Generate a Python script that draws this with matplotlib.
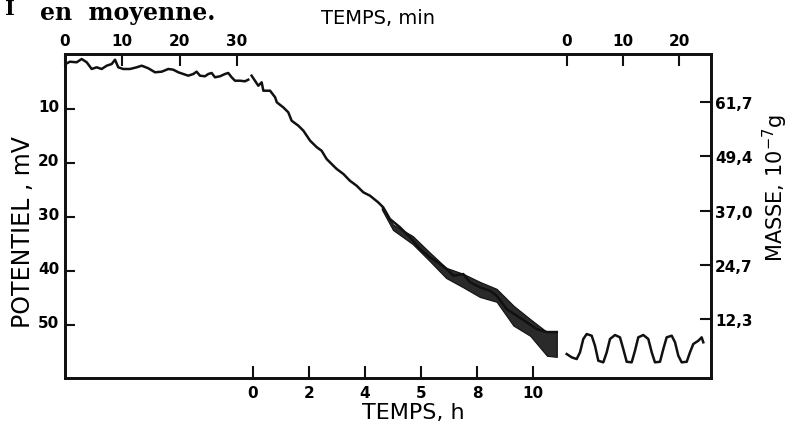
import numpy as np
import matplotlib.pyplot as plt
from matplotlib.transforms import ScaledTranslation

plt.rcParams['font.family'] = ['DejaVu Sans']

# palier initial (echelle du haut a gauche, min)
stab_min = [0.0, 0.87, 2.04, 2.91, 3.79, 4.66, 5.53, 6.40, 7.28, 8.15, 8.73, 9.30, 10.17,
            11.34, 12.51, 13.39, 14.54, 15.71, 16.88, 18.03, 18.90, 19.77, 20.65, 21.52,
            22.39, 22.98, 23.56, 24.43, 25.01, 25.60, 26.18, 27.05, 27.92, 28.50, 29.09,
            29.67, 30.54, 31.41, 31.99]
stab_mv = [1.70, 1.24, 1.35, 0.74, 1.35, 2.59, 2.28, 2.59, 1.98, 1.67, 0.87, 2.28, 2.59,
           2.59, 2.28, 1.98, 2.46, 3.20, 3.09, 2.59, 2.72, 3.20, 3.52, 3.83,
           3.52, 3.09, 3.83, 3.94, 3.52, 3.33, 4.13, 3.94, 3.52, 3.33, 4.13,
           4.76, 4.76, 4.87, 4.57]

# depot (echelle du bas, h)
dep_h = [-0.05, 0.07, 0.19, 0.31, 0.37, 0.61, 0.79, 0.85, 1.08, 1.26, 1.38, 1.62, 1.80,
         2.04, 2.28, 2.45, 2.63, 2.87, 2.99, 3.23, 3.46, 3.70, 3.94, 4.18, 4.47, 4.65,
         4.89, 5.25, 5.61, 5.96, 6.32, 6.68, 6.92, 7.15, 7.51, 7.75, 8.11, 8.46, 8.70,
         9.06, 9.42, 9.78, 10.13, 10.49, 10.85]
dep_mv = [3.83, 4.76, 5.69, 5.06, 6.61, 6.61, 7.83, 8.76, 9.69, 10.61, 12.17, 13.09, 14.02,
          15.87, 17.09, 17.72, 19.26, 20.50, 21.11, 22.04, 23.28, 24.20, 25.43, 26.06, 27.28,
          28.20, 30.37, 31.91, 33.76, 35.93, 37.46, 38.70, 39.63, 40.87, 40.56, 42.09, 43.02,
          43.65, 44.57, 47.04, 48.28, 49.50, 50.74, 51.30, 51.30]

# bande de bruit
band_h = [4.6, 5.0, 5.7, 6.3, 6.9, 7.5, 8.1, 8.7, 9.3, 9.9, 10.5, 10.85]
band_top = [28.0, 31.4, 33.5, 36.5, 39.4, 40.5, 42.0, 43.3, 46.4, 48.9, 51.3, 51.3]
band_bot = [28.6, 32.4, 35.0, 38.1, 41.3, 43.0, 44.8, 45.7, 50.1, 52.0, 55.7, 55.9]

# apres coupure (echelle du haut a droite, min)
end_min = [-0.05, 0.84, 1.73, 2.32, 2.91, 3.52, 4.41, 5.0, 5.59, 6.48, 7.09, 7.68, 8.57,
           9.46, 10.05, 10.66, 11.55, 12.14, 12.73, 13.63, 14.52, 15.13, 15.71, 16.61,
           17.20, 17.80, 18.70, 19.29, 19.88, 20.48, 21.38, 21.96, 22.55, 23.45, 24.05, 24.34]
end_mv = [55.37, 55.98, 56.30, 55.06, 52.59, 51.67, 51.98, 53.83, 56.61, 56.91, 55.06, 52.59,
          51.85, 52.28, 54.44, 56.80, 56.91, 54.76, 52.28, 51.85, 52.59, 55.06, 56.91, 56.80,
          54.44, 52.28, 51.98, 53.20, 55.69, 56.91, 56.80, 55.06, 53.52, 52.91, 52.28, 53.20]

h_ticks = [0, 2, 4, 6, 8, 10]
h_labels = ['0', '2', '4', '5', '8', '10']
min_ticks_start = [0, 10, 20, 30]
min_ticks_end = [0, 10, 20]
mv_ticks = [10, 20, 30, 40, 50]
mass_ticks = [61.7, 49.4, 37.0, 24.7, 12.3]
mass_labels = ['61,7', '49,4', '37,0', '24,7', '12,3']


def start_min_to_h(m):
    return -6.714 + np.asarray(m) * 0.2046


def end_min_to_h(m):
    return 11.214 + np.asarray(m) * 0.2


def mv_to_mass(v):
    return 72.39 - 1.229 * v


ink = '#111111'
fig = plt.figure(figsize=(7.9, 4.27), dpi=100)
ax = fig.add_axes([65 / 790, 1 - 379 / 427, 646 / 790, 324 / 427])
xlim = (-6.714, 16.357)
ylim = (59.81, -0.185)

ax.plot(start_min_to_h(stab_min), stab_mv, color=ink, lw=1.8)
ax.plot(dep_h, dep_mv, color=ink, lw=1.8)
ax.fill_between(band_h, band_top, band_bot, color='#2a2a2a', lw=0.8, edgecolor=ink)
ax.plot(end_min_to_h(end_min), end_mv, color=ink, lw=1.8)
ax.set_xlim(xlim)
ax.set_ylim(ylim)

ax.set_xticks(h_ticks)
ax.set_xticklabels(h_labels, fontsize=11, fontweight='bold')
ax.set_yticks(mv_ticks)
ax.set_yticklabels([str(v) for v in mv_ticks], fontsize=11, fontweight='bold')
ax.tick_params(axis='x', direction='in', length=8.5, width=1.5, pad=5, color=ink)
ax.tick_params(axis='y', direction='in', length=7, width=1.5, pad=4, color=ink)
off = ScaledTranslation(0, 0.04, fig.dpi_scale_trans)
for lab in ax.get_yticklabels():
    lab.set_transform(lab.get_transform() + off)

ax_t = ax.twiny()
ax_t.set_xlim(xlim)
top_pos = list(start_min_to_h(min_ticks_start)) + list(end_min_to_h(min_ticks_end))
top_lab = [str(m) for m in min_ticks_start] + [str(m) for m in min_ticks_end]
ax_t.set_xticks(top_pos)
ax_t.set_xticklabels(top_lab, fontsize=11, fontweight='bold')
ax_t.tick_params(axis='x', direction='in', length=8.5, width=1.5, pad=4, color=ink)

ax_r = ax.twinx()
ax_r.set_ylim(mv_to_mass(ylim[0]), mv_to_mass(ylim[1]))
ax_r.set_yticks(mass_ticks)
ax_r.set_yticklabels(mass_labels, fontsize=11, fontweight='bold')
ax_r.tick_params(axis='y', direction='in', length=8, width=1.5, pad=3, color=ink)

for a in (ax, ax_t, ax_r):
    for s in a.spines.values():
        s.set_linewidth(1.8)
        s.set_color(ink)

fig.text(378 / 790, 1 - 18 / 427, 'TEMPS, min', ha='center', va='center', fontsize=14)
fig.text(413 / 790, 1 - 413 / 427, 'TEMPS, h', ha='center', va='center', fontsize=16)
fig.text(23 / 790, 1 - 232 / 427, 'POTENTIEL , mV', rotation=90, ha='center', va='center',
         fontsize=17)
fig.text(775 / 790, 1 - 188 / 427, 'MASSE, 10$^{-7}$g', rotation=90, ha='center', va='center',
         fontsize=15)
fig.text(40 / 790, 1 - 20 / 427, 'en  moyenne.', family='DejaVu Serif', fontweight='bold',
         fontsize=17, va='baseline')
fig.text(5 / 790, 1 - 15 / 427, 'I', family='DejaVu Serif', fontweight='bold',
         fontsize=15, va='baseline')

fig.savefig('out.png', dpi=100)
